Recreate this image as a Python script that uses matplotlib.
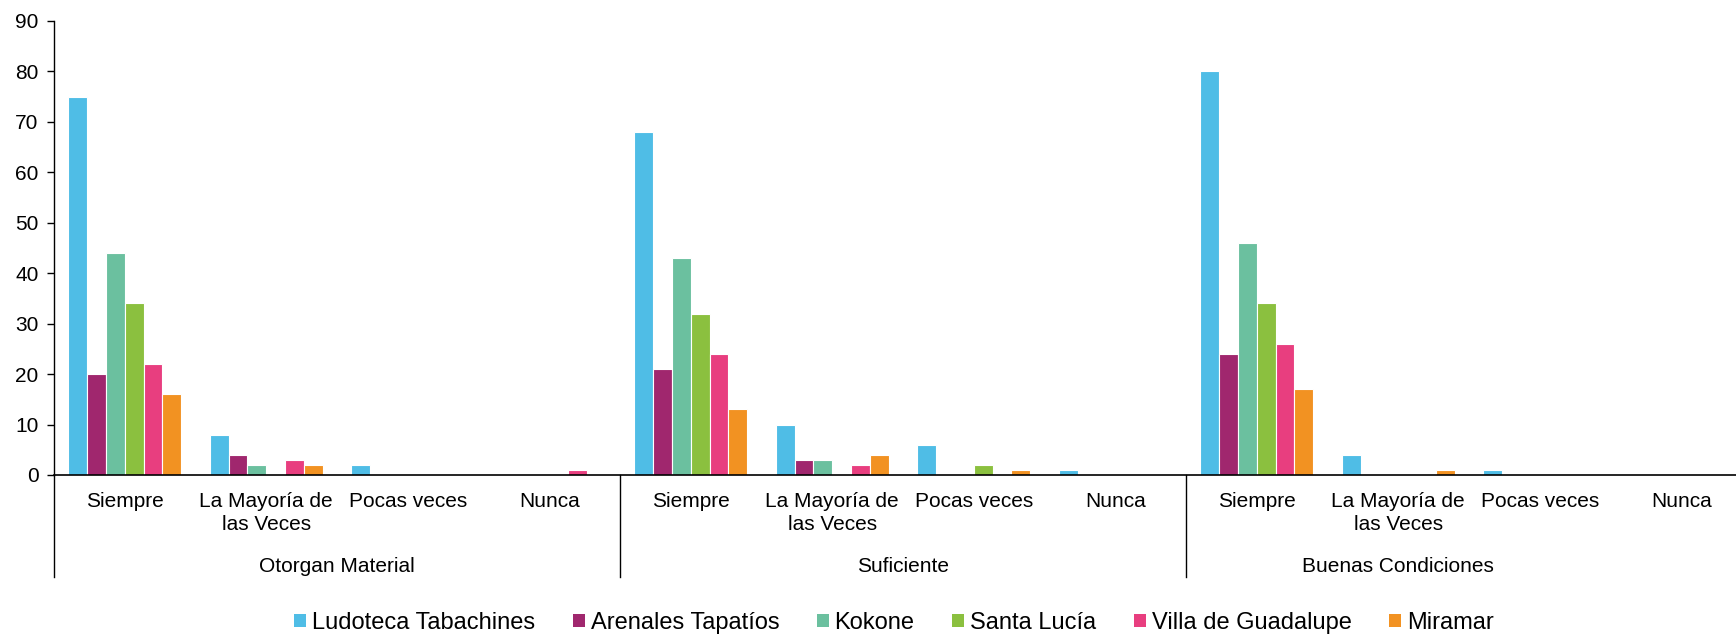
import numpy as np
import matplotlib
matplotlib.use("Agg")
import matplotlib.pyplot as plt
import matplotlib.transforms as mtransforms
from matplotlib.patches import Patch

plt.rcParams['font.family'] = ['Liberation Sans', 'DejaVu Sans']

# data: 3 groups x 4 answers
groups = ['Otorgan Material', 'Suficiente', 'Buenas Condiciones']
answers = ['Siempre', 'La Mayoría de\nlas Veces', 'Pocas veces', 'Nunca']
series_names = ['Ludoteca Tabachines', 'Arenales Tapatíos', 'Kokone',
                'Santa Lucía', 'Villa de Guadalupe', 'Miramar']

ludoteca = [75, 8, 2, 0, 68, 10, 6, 1, 80, 4, 1, 0]
arenales = [20, 4, 0, 0, 21, 3, 0, 0, 24, 0, 0, 0]
kokone = [44, 2, 0, 0, 43, 3, 0, 0, 46, 0, 0, 0]
santa_lucia = [34, 0, 0, 0, 32, 0, 2, 0, 34, 0, 0, 0]
villa = [22, 3, 0, 1, 24, 2, 0, 0, 26, 0, 0, 0]
miramar = [16, 2, 0, 0, 13, 4, 1, 0, 17, 1, 0, 0]

colors = ['#4FBDE6', '#A0276E', '#6BC09F', '#8BC03F', '#E83E7F', '#F29222']
all_series = [ludoteca, arenales, kokone, santa_lucia, villa, miramar]

W, H = 1736, 635
fig = plt.figure(figsize=(W / 100, H / 100), dpi=100)
left = 54 / W
bottom = (H - 475) / H
top = (H - 21) / H
# plot area is wider than the image (right part cut off, like the original)
ax = fig.add_axes([left, bottom, (1752 - 54) / W, top - bottom])

n_cat = len(groups) * len(answers)
x = np.arange(n_cat)
pitch = 0.133
for j, (vals, c) in enumerate(zip(all_series, colors)):
    ax.bar(x + (j - 2.5) * pitch, vals, width=pitch, color=c,
           edgecolor='white', linewidth=0.8, label=series_names[j], zorder=2)

ax.set_xlim(-0.5, n_cat - 0.5)
ax.set_ylim(0, 90)
ax.set_yticks(range(0, 91, 10))
ax.tick_params(axis='y', direction='out', length=5, width=1, labelsize=15,
               pad=6)
ax.set_xticks([])
for s in ['top', 'right']:
    ax.spines[s].set_visible(False)
ax.spines['left'].set_linewidth(1)
ax.spines['bottom'].set_linewidth(1.2)

trans = mtransforms.blended_transform_factory(ax.transData, ax.transAxes)
ax_h = 475 - 21
for i in range(n_cat):
    ax.text(i, -17 / ax_h, answers[i % 4], transform=trans, ha='center',
            va='top', fontsize=15, linespacing=1.25)

# group separators
for b in [-0.5, 3.5, 7.5, 11.5]:
    ax.plot([b, b], [0, -102 / ax_h], transform=trans, color='black',
            lw=1, clip_on=False)

# Excel centres the last group label on its visible part
group_pos = [1.5, 5.5, 9.0]
for g, p in zip(groups, group_pos):
    ax.text(p, -91 / ax_h, g, transform=trans, ha='center', va='center',
            fontsize=15)

handles = [Patch(facecolor=c, edgecolor='none') for c in colors]
fig.legend(handles, series_names, loc='center', ncol=6,
           bbox_to_anchor=(894 / W, (H - 623) / H), frameon=False,
           fontsize=17, handlelength=0.5, handleheight=0.5,
           handletextpad=0.25, columnspacing=1.6)

fig.savefig('out.png', dpi=100)
